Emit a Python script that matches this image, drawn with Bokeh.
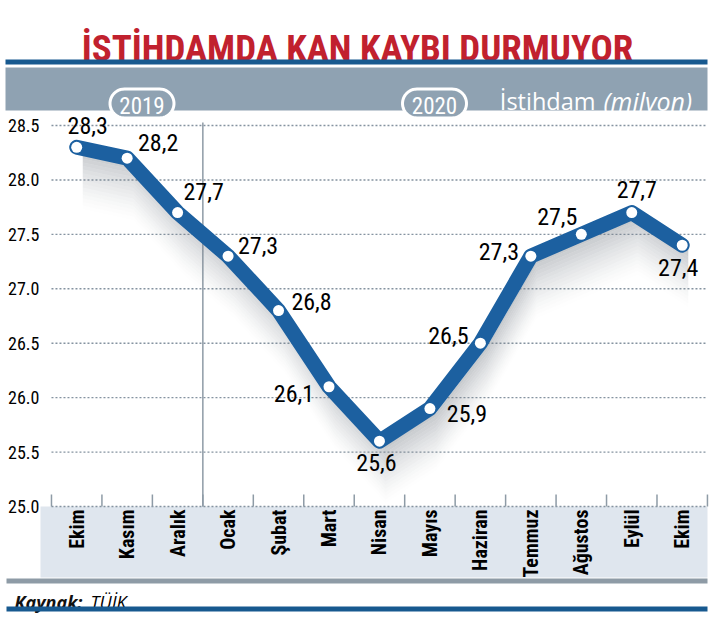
import numpy as np
from bokeh.plotting import figure
from bokeh.models import Range1d, FixedTicker, PrintfTickFormatter
from bokeh.core.properties import value
from bokeh.embed import file_html
from bokeh.resources import INLINE

# ---------------- data ----------------
title_text = "İSTİHDAMDA KAN KAYBI DURMUYOR"
unit_text = "İstihdam"
unit_text_it = "(milyon)"
years = ["2019", "2020"]
year_first_month = [0, 3]
months = ["Ekim", "Kasım", "Aralık", "Ocak", "Şubat", "Mart", "Nisan",
          "Mayıs", "Haziran", "Temmuz", "Ağustos", "Eylül", "Ekim"]
employment = [28.3, 28.2, 27.7, 27.3, 26.8, 26.1, 25.6, 25.9, 26.5, 27.3, 27.5, 27.7, 27.4]
y_ticks = [25.0, 25.5, 26.0, 26.5, 27.0, 27.5, 28.0, 28.5]
source_label = "Kaynak:"
source_name = "TÜİK"

# label placement (pixels, relative to point)
lab_dx = [11, 31, 26, 30, 33, -35, -3, 37, -32, -32, -24, 5, -4]
lab_dy = [-22, -16, -21, -11, -9, 7, 21, 5, -8, -5, -18, -23, 22]

COND = "'Roboto Condensed', 'DejaVu Sans Condensed', 'Liberation Sans Narrow', 'Noto Sans', sans-serif"
SANS = "Open Sans"
RED = "#c1212e"
DARK = "#17598f"
LINE = "#1c60a0"
BAND = "#8fa2b2"
GRAYBAR = "#8e9ba6"
LIGHT = "#dfe6ee"
GRID = "#8593a0"

W, H = 720, 623
# window-pixel layout of the chart geometry
X0_PX, DX_PX = 76.2, 50.46        # centre of first month, month spacing
Y_REF_PX, Y_REF_V, PX = 125.0, 28.5, 108.86  # 28.5 at y=125, px per unit

def gx(px):
    return (np.asarray(px, dtype=float) - X0_PX) / DX_PX

def gy(py):
    return Y_REF_V - (np.asarray(py, dtype=float) - Y_REF_PX) / PX

x_start, x_end = float(gx(0)), float(gx(W))
y_top, y_bot = float(gy(0)), float(gy(H))

p = figure(width=W, height=H, x_range=Range1d(x_start, x_end), y_range=Range1d(y_bot, y_top),
           output_backend="svg", toolbar_location=None, x_axis_location=None,
           min_border=0, min_border_left=0)
p.outline_line_color = None
p.xgrid.visible = False
p.ygrid.visible = False
p.background_fill_color = "white"
p.border_fill_color = "white"

p.yaxis.ticker = FixedTicker(ticks=y_ticks)
p.yaxis.formatter = PrintfTickFormatter(format="%.1f")
p.yaxis.axis_line_color = None
p.yaxis.major_tick_line_color = None
p.yaxis.minor_tick_line_color = None
p.yaxis.major_tick_out = 0
p.yaxis.major_tick_in = 0
p.yaxis.major_label_standoff = -39
p.yaxis.major_label_text_font = COND
p.yaxis.major_label_text_font_size = "18px"
p.yaxis.major_label_text_color = "black"

idx = np.arange(len(months))
vals = np.array(employment)
last = len(months) - 0.5

# ---------- header ----------
p.text(x=[gx(357)], y=[gy(48)], text=[title_text], text_font=value(COND), text_font_style="bold",
       text_font_size="37px", text_color=RED, text_align="center", text_baseline="alphabetic")
p.quad(left=[gx(5)], right=[gx(707)], top=[gy(59)], bottom=[gy(64)], fill_color=DARK, line_color=None)
p.quad(left=[gx(5)], right=[gx(707)], top=[gy(67)], bottom=[gy(110)], fill_color=BAND, line_color=None)

def pill(cx, cy, w, h):
    r = h / 2.0
    t1 = np.linspace(np.pi / 2, 3 * np.pi / 2, 24)
    t2 = np.linspace(-np.pi / 2, np.pi / 2, 24)
    xs = np.concatenate([cx - w / 2 + r + r * np.cos(t1), cx + w / 2 - r + r * np.cos(t2)])
    ys = np.concatenate([cy - r * np.sin(t1), cy - r * np.sin(t2)])
    return gx(xs), gy(ys)

pill_cx = [141.5, 434.0]
for cx, yr in zip(pill_cx, years):
    xs, ys = pill(cx, 103, 64, 29)
    p.patch(xs, ys, fill_color=BAND, line_color="white", line_width=3)
    p.text(x=[gx(cx)], y=[gy(105)], text=[yr], text_font=value(COND), text_font_size="23px",
           text_color="white", text_align="center", text_baseline="middle")

p.text(x=[gx(595)], y=[gy(100)], text=[unit_text], text_font=value(SANS), text_font_size="23.5px",
       text_color="white", text_align="right", text_baseline="alphabetic")
p.text(x=[gx(603)], y=[gy(100)], text=[unit_text_it], text_font=value(SANS), text_font_style="italic",
       text_font_size="25px", text_color="white", text_align="left", text_baseline="alphabetic")

# ---------- chart ----------
p.quad(left=[gx(40)], right=[gx(707)], top=[25.0], bottom=[gy(577)], fill_color=LIGHT, line_color=None)

p.segment(x0=[-0.5] * len(y_ticks), x1=[last] * len(y_ticks), y0=y_ticks, y1=y_ticks,
          line_color=GRID, line_width=1.4, line_dash="2 2")

bx = [i - 0.5 for i in range(len(months) + 1)]
p.segment(x0=bx, x1=bx, y0=[25.0] * len(bx), y1=[25.0 + 12 / PX] * len(bx),
          line_color=GRAYBAR, line_width=1.5)
div_x = year_first_month[1] - 0.5
p.segment(x0=[div_x], x1=[div_x], y0=[25.0], y1=[gy(122)], line_color=GRAYBAR, line_width=1.5)

# shadow
n_sh = 16
for k in range(n_sh):
    top = vals - (0.04 + k * 0.033)
    bot = vals - (0.04 + (k + 1) * 0.033)
    alpha = 0.42 * (1 - k / n_sh) ** 1.4
    p.varea(x=idx + 0.12, y1=bot, y2=top, fill_color="#7a8189", fill_alpha=alpha)

p.line(idx, vals, line_color=LINE, line_width=15, line_join="round", line_cap="round")
p.scatter(idx, vals, size=11, fill_color="white", line_color=None)

labels = [f"{v:.1f}".replace(".", ",") for v in employment]
p.text(x=idx, y=vals, text=labels, x_offset=lab_dx, y_offset=lab_dy,
       text_font=value(COND), text_font_size="24px", text_color="black",
       text_align="center", text_baseline="middle")

p.text(x=idx, y=[25.0] * len(months), text=months, y_offset=[3] * len(months), angle=np.pi / 2,
       text_font=value(COND), text_font_style="bold", text_font_size="20px", text_color="black",
       text_align="right", text_baseline="middle")

# ---------- footer ----------
p.quad(left=[gx(6)], right=[gx(707)], top=[gy(578)], bottom=[gy(583)], fill_color=GRAYBAR, line_color=None)
p.text(x=[gx(14)], y=[gy(601)], text=[source_label], text_font=value(SANS), text_font_style="bold italic",
       text_font_size="18px", text_color="#111111", text_align="left", text_baseline="alphabetic")
p.text(x=[gx(90)], y=[gy(601)], text=[source_name], text_font=value(SANS), text_font_style="italic",
       text_font_size="18px", text_color="black", text_align="left", text_baseline="alphabetic")
p.quad(left=[gx(6)], right=[gx(707)], top=[gy(606)], bottom=[gy(611)], fill_color=DARK, line_color=None)

open("out.html", "w").write(file_html(p, INLINE))
